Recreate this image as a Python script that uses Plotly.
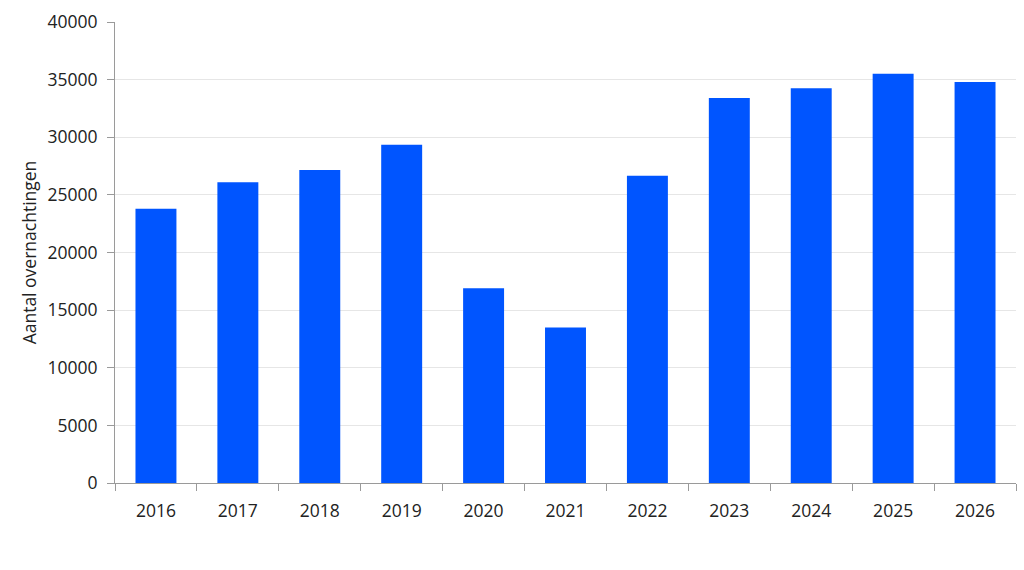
import plotly.graph_objects as go

years = ["2016", "2017", "2018", "2019", "2020", "2021", "2022", "2023", "2024", "2025", "2026"]
overnachtingen = [23800, 26100, 27150, 29350, 16900, 13500, 26650, 33400, 34250, 35500, 34800]

fig = go.Figure(
    go.Bar(x=years, y=overnachtingen, marker=dict(color="#0055FF", line=dict(width=0)))
)

fig.update_layout(
    width=1024, height=570,
    margin=dict(l=115, r=8, t=22, b=87),
    paper_bgcolor="white", plot_bgcolor="white",
    bargap=0.5,
    font=dict(family="Open Sans", size=17.5, color="#222222"),
    showlegend=False,
)
fig.update_xaxes(
    type="category", tickson="boundaries",
    showline=True, linecolor="#9a9a9a", linewidth=1,
    ticks="outside", ticklen=7, tickcolor="#9a9a9a",
    ticklabelstandoff=12,
    showgrid=False,
)
fig.update_yaxes(
    range=[0, 40000], dtick=5000, tickformat="d",
    showline=True, linecolor="#9a9a9a", linewidth=1,
    ticks="outside", ticklen=7, tickcolor="#9a9a9a",
    ticklabelstandoff=6,
    showgrid=True, gridcolor="#e6e6e6", zeroline=False,
    title=dict(text="Aantal overnachtingen", standoff=6, font=dict(size=17.5)),
)

fig.write_html("out.html")
